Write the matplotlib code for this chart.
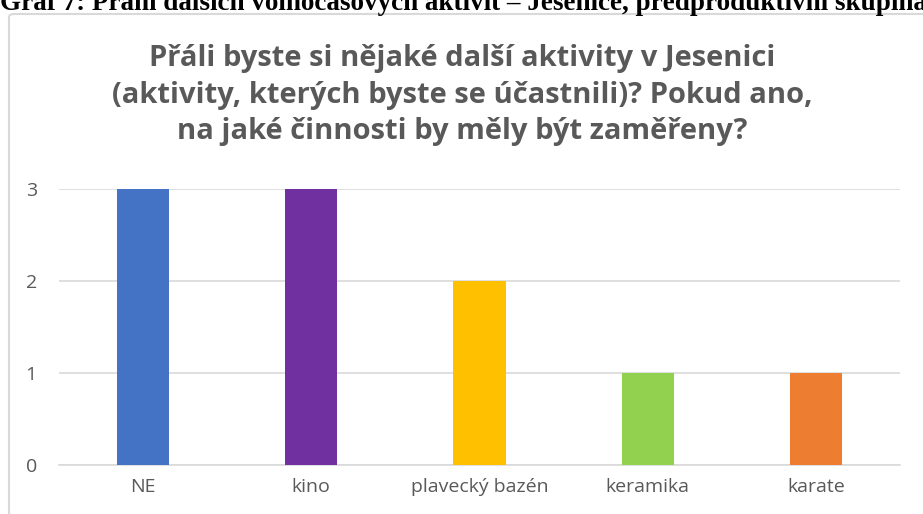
import matplotlib.pyplot as plt
from matplotlib.patches import FancyBboxPatch

categories = ['NE', 'kino', 'plavecký bazén', 'keramika', 'karate']
values = [3, 3, 2, 1, 1]
colors = ['#4472C4', '#7030A0', '#FFC000', '#92D050', '#ED7D31']
yticks = [0, 1, 2, 3]

W, H = 923, 514
fig = plt.figure(figsize=(W / 100, H / 100), dpi=100)

# cut-off caption from the document above the chart
fig.text(0.0, 1 - 3 / H, 'Graf 7: Přání dalších volnočasových aktivit – Jesenice, předproduktivní skupina',
         family='Liberation Serif', weight='bold', fontsize=19.5, color='black',
         ha='left', va='center')

# chart frame
frame = FancyBboxPatch((9 / W, -0.1), 1.0, (1 - 14 / H) + 0.1,
                       boxstyle='round,pad=0,rounding_size=0.006',
                       transform=fig.transFigure, facecolor='white',
                       edgecolor='#D9D9D9', linewidth=1.5, zorder=-1)
fig.patches.append(frame)

ax = fig.add_axes([59 / W, (H - 465) / H, (900 - 59) / W, (465 - 189) / H])
ax.set_facecolor('none')
ax.set_zorder(2)
x = range(len(categories))
ax.bar(x, values, width=0.31, color=colors, zorder=3)
ax.set_xlim(-0.5, len(categories) - 0.5)
ax.set_ylim(0, 3)
ax.set_yticks(yticks)
ax.set_xticks(list(x))
ax.set_xticklabels(categories)
ax.yaxis.grid(True, color='#D9D9D9', linewidth=1.2, zorder=0)
ax.set_axisbelow(True)
for s in ['top', 'right', 'left']:
    ax.spines[s].set_visible(False)
ax.spines['bottom'].set_color('#D9D9D9')
ax.spines['bottom'].set_linewidth(1.2)
ax.tick_params(length=0, labelsize=14, labelcolor='#595959')
ax.tick_params(axis='y', pad=16)
ax.tick_params(axis='x', pad=9)
for lbl in ax.get_xticklabels() + ax.get_yticklabels():
    lbl.set_family('Open Sans')

fig.text(462 / W, 1 - 95 / H,
         'Přáli byste si nějaké další aktivity v Jesenici\n'
         '(aktivity, kterých byste se účastnili)? Pokud ano,\n'
         'na jaké činnosti by měly být zaměřeny?',
         family='Open Sans', weight='bold', fontsize=21, color='#595959',
         ha='center', va='center', linespacing=1.35)

fig.savefig('out.png', dpi=100)
